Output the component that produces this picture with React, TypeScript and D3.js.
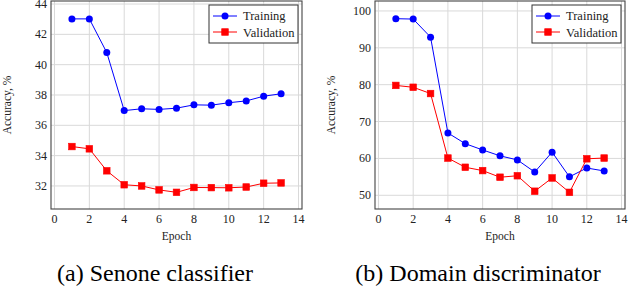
import React from 'react';
import { scaleLinear, line } from 'd3';

const width = 628;
const height = 290;

// epochs shared by both plots
const epochs = [1, 2, 3, 4, 5, 6, 7, 8, 9, 10, 11, 12, 13];
const xTicks = [0, 2, 4, 6, 8, 10, 12, 14];

// (a) Senone classifier
const senoneTraining = [43.02, 43.02, 40.8, 36.97, 37.09, 37.05, 37.13, 37.35, 37.33, 37.49, 37.61, 37.92, 38.08];
const senoneValidation = [34.6, 34.45, 33.0, 32.08, 32.0, 31.74, 31.58, 31.9, 31.89, 31.88, 31.93, 32.18, 32.2];
const senoneYTicks = [32, 34, 36, 38, 40, 42, 44];

// (b) Domain discriminator
const domainTraining = [97.9, 97.8, 92.9, 66.9, 64.0, 62.3, 60.7, 59.6, 56.3, 61.7, 55.0, 57.4, 56.6];
const domainValidation = [79.8, 79.3, 77.6, 60.1, 57.6, 56.7, 54.9, 55.3, 51.1, 54.7, 50.8, 59.9, 60.1];
const domainYTicks = [50, 60, 70, 80, 90, 100];

const serif = 'Liberation Serif';
const blue = '#0000ff';
const red = '#ff0000';

type PlotProps = {
  x0: number;
  x1: number;
  yDomain: [number, number];
  yTicks: number[];
  training: number[];
  validation: number[];
  caption: string;
  captionX: number;
};

const Square = ({ cx, cy }: { cx: number; cy: number }) => (
  <rect x={cx - 3.3} y={cy - 3.3} width={6.6} height={6.6} fill={red} stroke={red} strokeWidth={0.6} />
);

const Plot = ({ x0, x1, yDomain, yTicks, training, validation, caption, captionX }: PlotProps) => {
  const top = 1;
  const bottom = 209;
  const xScale = scaleLinear().domain([-0.2, 14.2]).range([x0, x1]);
  const yScale = scaleLinear().domain(yDomain).range([bottom, top]);

  const path = line<number>()
    .x((_, i) => xScale(epochs[i]))
    .y((d) => yScale(d));

  const midX = (x0 + x1) / 2;
  const midY = (top + bottom) / 2;

  return (
    <g fontFamily={serif}>
      {/* grid */}
      {xTicks.map((t) => (
        <line key={'gx' + t} x1={xScale(t)} x2={xScale(t)} y1={top} y2={bottom} stroke="#d9d9d9" strokeWidth={1} />
      ))}
      {yTicks.map((t) => (
        <line key={'gy' + t} x1={x0} x2={x1} y1={yScale(t)} y2={yScale(t)} stroke="#d9d9d9" strokeWidth={1} />
      ))}

      {/* series */}
      <path d={path(training) || ''} fill="none" stroke={blue} strokeWidth={1} />
      {training.map((d, i) => (
        <circle key={'t' + i} cx={xScale(epochs[i])} cy={yScale(d)} r={3.5} fill={blue} />
      ))}
      <path d={path(validation) || ''} fill="none" stroke={red} strokeWidth={1} />
      {validation.map((d, i) => (
        <Square key={'v' + i} cx={xScale(epochs[i])} cy={yScale(d)} />
      ))}

      {/* axis box */}
      <rect x={x0} y={top} width={x1 - x0} height={bottom - top} fill="none" stroke="#444" strokeWidth={1.1} />

      {/* tick labels */}
      {xTicks.map((t) => (
        <text key={'lx' + t} x={xScale(t)} y={223} fontSize={12} textAnchor="middle" fill="#222">
          {t}
        </text>
      ))}
      {yTicks.map((t) => (
        <text key={'ly' + t} x={x0 - 4} y={yScale(t) + 4} fontSize={12} textAnchor="end" fill="#222">
          {t}
        </text>
      ))}

      <text x={midX} y={240} fontSize={11.5} textAnchor="middle" fill="#222">
        Epoch
      </text>
      <text transform={`translate(${x0 - 40},${midY}) rotate(-90)`} fontSize={11.5} textAnchor="middle" fill="#222">
        Accuracy, %
      </text>

      {/* legend */}
      <g transform={`translate(${x1 - 93},5)`}>
        <rect x={0} y={0} width={89} height={38} fill="#fff" stroke="#333" strokeWidth={1} />
        <line x1={4} x2={28} y1={11} y2={11} stroke={blue} strokeWidth={1} />
        <circle cx={16} cy={11} r={3.5} fill={blue} />
        <text x={34} y={15} fontSize={12.5} fill="#222">Training</text>
        <line x1={4} x2={28} y1={27} y2={27} stroke={red} strokeWidth={1} />
        <Square cx={16} cy={27} />
        <text x={34} y={31.5} fontSize={12.5} fill="#222">Validation</text>
      </g>

      <text x={captionX} y={281} fontSize={24} textAnchor="middle" fill="#000">
        {caption}
      </text>
    </g>
  );
};

const App = () => (
  <svg width={width} height={height} style={{ position: 'absolute', left: 0, top: 0, background: '#fff' }}>
    <Plot
      x0={51}
      x1={302}
      yDomain={[30.48, 44.2]}
      yTicks={senoneYTicks}
      training={senoneTraining}
      validation={senoneValidation}
      caption="(a) Senone classifier"
      captionX={155}
    />
    <Plot
      x0={375}
      x1={625}
      yDomain={[46.28, 102.7]}
      yTicks={domainYTicks}
      training={domainTraining}
      validation={domainValidation}
      caption="(b) Domain discriminator"
      captionX={478}
    />
  </svg>
);

export default App;
